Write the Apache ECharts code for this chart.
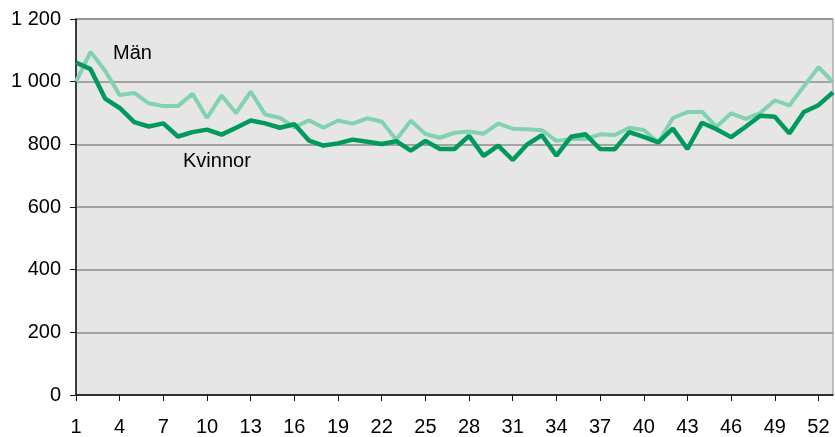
<!DOCTYPE html>
<html>
<head>
<meta charset="utf-8">
<script src="https://cdn.jsdelivr.net/npm/echarts@6/dist/echarts.min.js"></script>
<style>
html, body { margin: 0; padding: 0; background: #fff; }
#chart { width: 835px; height: 437px; }
</style>
</head>
<body>
<div id="chart"></div>
<script>
// veckor 1-53
var weeks = [];
for (var w = 1; w <= 53; w++) weeks.push(String(w));

var man = [1000, 1095, 1035, 957, 964, 931, 922, 922, 961, 884,
           956, 900, 968, 895, 885, 854, 877, 853, 876, 866,
           883, 873, 815, 875, 833, 821, 837, 841, 834, 866,
           850, 848, 845, 811, 817, 817, 832, 830, 853, 846,
           806, 884, 903, 904, 856, 899, 881, 900, 940, 924,
           985, 1046, 999];

var kvinnor = [1061, 1040, 946, 916, 871, 857, 867, 825, 839, 847,
               831, 853, 876, 867, 853, 864, 812, 796, 803, 815,
               808, 801, 810, 780, 811, 785, 785, 827, 763, 796,
               750, 800, 829, 764, 824, 832, 785, 784, 839, 824,
               806, 850, 785, 869, 848, 823, 856, 891, 888, 835,
               903, 925, 966];

var myChart = echarts.init(document.getElementById('chart'));

var font = 'Liberation Sans, Arial, sans-serif';

var option = {
    animation: false,
    textStyle: { fontFamily: font },
    grid: {
        left: 76, right: 2, top: 19, bottom: 41,
        show: true,
        backgroundColor: '#e6e6e6',
        borderColor: '#8c8c8c',
        borderWidth: 1
    },
    xAxis: {
        type: 'category',
        boundaryGap: false,
        data: weeks,
        axisLine: { lineStyle: { color: '#111', width: 1.5 } },
        axisTick: { interval: 2, length: 6, lineStyle: { color: '#111' } },
        axisLabel: { interval: 2, color: '#000', fontSize: 20, margin: 22 },
        splitLine: { show: false }
    },
    yAxis: {
        type: 'value',
        min: 0, max: 1200, interval: 200,
        axisLine: { show: true, lineStyle: { color: '#111', width: 1.5 } },
        axisTick: { show: true, inside: false, length: 6, lineStyle: { color: '#111' } },
        axisLabel: {
            color: '#000', fontSize: 20, margin: 15,
            formatter: function (v) { return v >= 1000 ? Math.floor(v / 1000) + ' ' + String(v % 1000).padStart(3, '0') : String(v); }
        },
        splitLine: { lineStyle: { color: '#8c8c8c', width: 1.5 } }
    },
    series: [
        {
            name: 'Män', type: 'line', data: man,
            symbol: 'none', lineStyle: { color: '#82d2b0', width: 4 },
            z: 2
        },
        {
            name: 'Kvinnor', type: 'line', data: kvinnor,
            symbol: 'none', lineStyle: { color: '#009a5c', width: 4.5 },
            z: 3
        }
    ],
    graphic: [
        { type: 'text', left: 113, top: 43, style: { text: 'Män', fontSize: 20, fill: '#000', fontFamily: font } },
        { type: 'text', left: 183, top: 151, style: { text: 'Kvinnor', fontSize: 20, fill: '#000', fontFamily: font } }
    ]
};

myChart.setOption(option);
</script>
</body>
</html>
